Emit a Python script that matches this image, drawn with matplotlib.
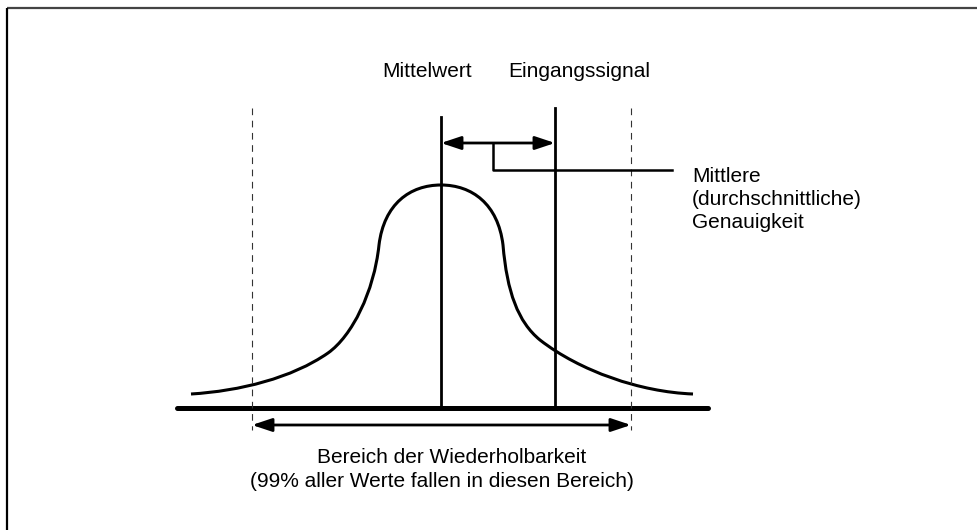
import matplotlib.pyplot as plt
from matplotlib.path import Path
from matplotlib.patches import PathPatch

plt.rcParams['font.family'] = ['Liberation Sans', 'DejaVu Sans']

# key positions of the sketch (pixel units, y grows downwards)
mean_x = 441
signal_x = 555
limit_left = 252
limit_right = 631
base_y = 408
leader_x = 493

# bell curve as cubic bezier pieces: start point, then (ctrl1, ctrl2, end) triples
curve_start = (191, 394)
curve_segments = [
    ((240, 391), (292, 378), (328, 353)),
    ((352, 336), (374, 292), (379, 245)),
    ((384, 204), (410, 185), (441, 185)),
    ((472, 185), (498, 204), (503, 245)),
    ((507, 292), (518, 322), (540, 340)),
    ((580, 371), (640, 392), (693, 394)),
]

top_labels = ["Mittelwert", "Eingangssignal"]
top_label_x = [427, 579]
side_lines = ["Mittlere", "(durchschnittliche)", "Genauigkeit"]
bottom_lines = ["Bereich der Wiederholbarkeit",
                "(99% aller Werte fallen in diesen Bereich)"]

fig = plt.figure(figsize=(9.78, 5.30), dpi=100)
ax = fig.add_axes([0, 0, 1, 1])
ax.set_xlim(0, 978)
ax.set_ylim(530, 0)
ax.axis('off')

# frame: top and left edges only
ax.plot([7, 978], [7.5, 7.5], color='#444444', lw=1.6, solid_capstyle='butt')
ax.plot([7, 7], [7.5, 530], color='black', lw=1.6, solid_capstyle='butt')

# bell curve
verts = [curve_start]
codes = [Path.MOVETO]
for seg in curve_segments:
    verts.extend(seg)
    codes.extend([Path.CURVE4] * 3)
ax.add_patch(PathPatch(Path(verts, codes), fill=False, lw=2.2, color='black'))

# baseline
ax.plot([177, 708], [base_y, base_y], color='black', lw=3.6, solid_capstyle='round')

# mean and input signal
ax.plot([mean_x, mean_x], [117, base_y], color='black', lw=2.0)
ax.plot([signal_x, signal_x], [108, base_y], color='black', lw=2.0)

# repeatability limits
for lx in (limit_left, limit_right):
    ax.plot([lx, lx], [108, 430], color='#333333', lw=0.8, ls=(0, (6, 5)))

arrow_kw = dict(arrowstyle='<|-|>,head_length=0.6,head_width=0.2',
                mutation_scale=20, lw=2.0, color='black',
                shrinkA=0, shrinkB=0)
ax.annotate('', xy=(signal_x, 143), xytext=(mean_x, 143), arrowprops=arrow_kw)
ax.annotate('', xy=(limit_right, 425), xytext=(limit_left, 425), arrowprops=arrow_kw)

# leader to the accuracy label
ax.plot([leader_x, leader_x, 672], [143, 170, 170], color='black', lw=1.8)

for label, lx in zip(top_labels, top_label_x):
    ax.text(lx, 77, label, ha='center', va='baseline', fontsize=15)

for i, line in enumerate(side_lines):
    ax.text(692, 182 + 23 * i, line, ha='left', va='baseline', fontsize=15)

ax.text(452, 463, bottom_lines[0], ha='center', va='baseline', fontsize=15)
ax.text(442, 487, bottom_lines[1], ha='center', va='baseline', fontsize=15)

fig.savefig('out.png', dpi=100)
